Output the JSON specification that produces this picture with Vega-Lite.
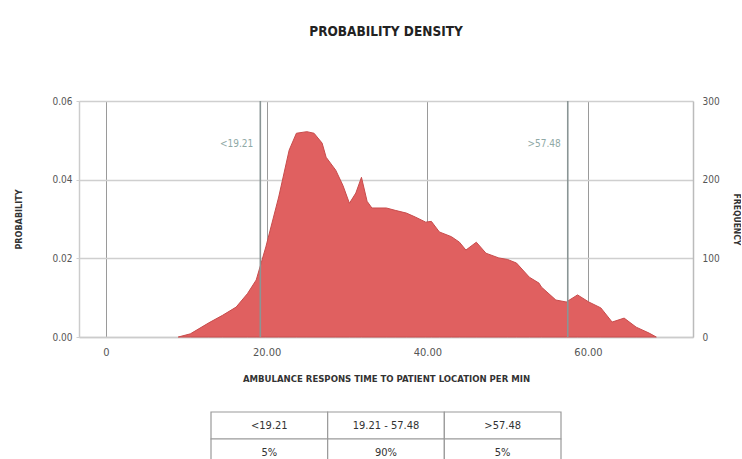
{
  "$schema": "https://vega.github.io/schema/vega-lite/v6.json",
  "padding": {"left": 14, "top": 24, "right": 0, "bottom": 0},
  "bounds": "flush",
  "center": true,
  "spacing": 75,
  "background": "white",
  "config": {
    "view": {"stroke": null},
    "font": "DejaVu Sans Condensed, sans-serif",
    "axis": {
      "labelFont": "DejaVu Sans Condensed, sans-serif",
      "titleFont": "DejaVu Sans Condensed, sans-serif",
      "labelColor": "#555555",
      "titleColor": "#333333",
      "labelFontSize": 10,
      "titleFontSize": 9,
      "titleFontWeight": "bold"
    }
  },
  "vconcat": [
    {
      "title": {
        "text": "PROBABILITY DENSITY",
        "fontSize": 13.5,
        "fontWeight": "bold",
        "color": "#222222",
        "font": "DejaVu Sans Condensed, sans-serif",
        "anchor": "middle",
        "offset": 58
      },
      "width": 614,
      "height": 236,
      "layer": [
        {
          "layer": [
            {
              "data": {
                "values": [
                  {"minutes": 9.0, "probability": 0},
                  {"minutes": 10.5, "probability": 0.0008},
                  {"minutes": 12.8, "probability": 0.0036},
                  {"minutes": 14.5, "probability": 0.0055},
                  {"minutes": 16.2, "probability": 0.0076},
                  {"minutes": 17.6, "probability": 0.011},
                  {"minutes": 18.7, "probability": 0.0145},
                  {"minutes": 19.9, "probability": 0.0229},
                  {"minutes": 21.5, "probability": 0.0356},
                  {"minutes": 22.8, "probability": 0.0475},
                  {"minutes": 23.7, "probability": 0.0518},
                  {"minutes": 25.0, "probability": 0.0522},
                  {"minutes": 25.9, "probability": 0.0518},
                  {"minutes": 26.9, "probability": 0.0493},
                  {"minutes": 27.4, "probability": 0.0457},
                  {"minutes": 28.6, "probability": 0.0424},
                  {"minutes": 29.5, "probability": 0.0385},
                  {"minutes": 30.3, "probability": 0.034},
                  {"minutes": 31.1, "probability": 0.0366},
                  {"minutes": 31.8, "probability": 0.0406},
                  {"minutes": 32.5, "probability": 0.0345},
                  {"minutes": 33.1, "probability": 0.0328},
                  {"minutes": 34.9, "probability": 0.0328},
                  {"minutes": 36.0, "probability": 0.0322},
                  {"minutes": 37.4, "probability": 0.0315},
                  {"minutes": 38.5, "probability": 0.0305},
                  {"minutes": 39.8, "probability": 0.0292},
                  {"minutes": 40.5, "probability": 0.0294},
                  {"minutes": 41.5, "probability": 0.0267},
                  {"minutes": 43.0, "probability": 0.0255},
                  {"minutes": 44.0, "probability": 0.0241},
                  {"minutes": 44.8, "probability": 0.0221},
                  {"minutes": 46.1, "probability": 0.0241},
                  {"minutes": 47.3, "probability": 0.0213},
                  {"minutes": 48.9, "probability": 0.0201},
                  {"minutes": 50.0, "probability": 0.0197},
                  {"minutes": 51.1, "probability": 0.0188},
                  {"minutes": 52.7, "probability": 0.0152},
                  {"minutes": 53.9, "probability": 0.0137},
                  {"minutes": 54.2, "probability": 0.0127},
                  {"minutes": 56.0, "probability": 0.0094},
                  {"minutes": 57.3, "probability": 0.0089},
                  {"minutes": 58.7, "probability": 0.0107},
                  {"minutes": 60.1, "probability": 0.0089},
                  {"minutes": 61.6, "probability": 0.0074},
                  {"minutes": 63.0, "probability": 0.0038},
                  {"minutes": 64.5, "probability": 0.0048},
                  {"minutes": 66.0, "probability": 0.0025},
                  {"minutes": 67.6, "probability": 0.001},
                  {"minutes": 68.5, "probability": 0}
                ]
              },
              "mark": {"type": "area", "color": "#e06060", "stroke": "#c84c4c", "strokeWidth": 1, "interpolate": "linear"},
              "encoding": {
                "x": {
                  "field": "minutes",
                  "type": "quantitative",
                  "scale": {"domain": [-3.36, 73.07], "nice": false, "zero": false},
                  "axis": {
                    "title": "AMBULANCE RESPONS TIME TO PATIENT LOCATION PER MIN",
                    "titleFontSize": 9.5,
                    "titleColor": "#333333",
                    "titlePadding": 16,
                    "values": [0, 20, 40, 60],
                    "labelExpr": "datum.value == 0 ? '0' : format(datum.value, '.2f')",
                    "grid": true,
                    "gridColor": "#9a9a9a",
                    "gridWidth": 1,
                    "ticks": false,
                    "labelPadding": 9,
                    "domainColor": "#cccccc",
                    "domainWidth": 1.5,
                    "labelFontSize": 11
                  }
                },
                "y": {
                  "field": "probability",
                  "type": "quantitative",
                  "scale": {"domain": [0, 0.06], "nice": false},
                  "axis": {
                    "title": "PROBABILITY",
                    "values": [0, 0.02, 0.04, 0.06],
                    "format": ".2f",
                    "grid": true,
                    "gridColor": "#cfcfcf",
                    "gridWidth": 1.5,
                    "tickColor": "#cfcfcf",
                    "tickSize": 3,
                    "labelPadding": 4,
                    "titlePadding": 28,
                    "domainColor": "#cccccc",
                    "domainWidth": 1.5
                  }
                }
              }
            },
            {
              "data": {"values": [{"cut": 19.21, "label": "<19.21"}, {"cut": 57.48, "label": ">57.48"}]},
              "mark": {"type": "rule", "color": "#8a9595", "strokeWidth": 1.6},
              "encoding": {"x": {"field": "cut", "type": "quantitative"}}
            },
            {
              "data": {"values": [{"cut": 19.21, "label": "<19.21"}, {"cut": 57.48, "label": ">57.48"}]},
              "mark": {"type": "text", "align": "right", "dx": -7, "fontSize": 10, "color": "#8fa9a6"},
              "encoding": {
                "x": {"field": "cut", "type": "quantitative"},
                "y": {"datum": 0.049},
                "text": {"field": "label"}
              }
            }
          ]
        },
        {
          "data": {"values": [{"frequency": 0}, {"frequency": 300}]},
          "mark": {"type": "point", "opacity": 0},
          "encoding": {
            "y": {
              "field": "frequency",
              "type": "quantitative",
              "scale": {"domain": [0, 300], "nice": false},
              "axis": {
                "orient": "right",
                "title": "FREQUENCY",
                "titleAngle": 90,
                "titleFontSize": 8.5,
                "values": [0, 100, 200, 300],
                "grid": false,
                "ticks": false,
                "labelPadding": 9,
                "titlePadding": 12,
                "domainColor": "#bbbbbb",
                "domainWidth": 1.5
              }
            }
          }
        }
      ],
      "resolve": {"scale": {"y": "independent"}, "axis": {"y": "independent"}}
    },
    {
      "width": 350,
      "height": 54,
      "data": {
        "values": [
          {"col": 1, "row": 1, "cell": "<19.21"},
          {"col": 2, "row": 1, "cell": "19.21 - 57.48"},
          {"col": 3, "row": 1, "cell": ">57.48"},
          {"col": 1, "row": 2, "cell": "5%"},
          {"col": 2, "row": 2, "cell": "90%"},
          {"col": 3, "row": 2, "cell": "5%"}
        ]
      },
      "encoding": {
        "x": {"field": "col", "type": "ordinal", "axis": null, "scale": {"paddingInner": 0, "paddingOuter": 0}},
        "y": {"field": "row", "type": "ordinal", "axis": null, "scale": {"paddingInner": 0, "paddingOuter": 0}}
      },
      "layer": [
        {"mark": {"type": "rect", "fill": "white", "stroke": "#9a9a9a", "strokeWidth": 1.2}},
        {"mark": {"type": "text", "fontSize": 11, "color": "#333333"}, "encoding": {"text": {"field": "cell"}}}
      ]
    }
  ]
}
